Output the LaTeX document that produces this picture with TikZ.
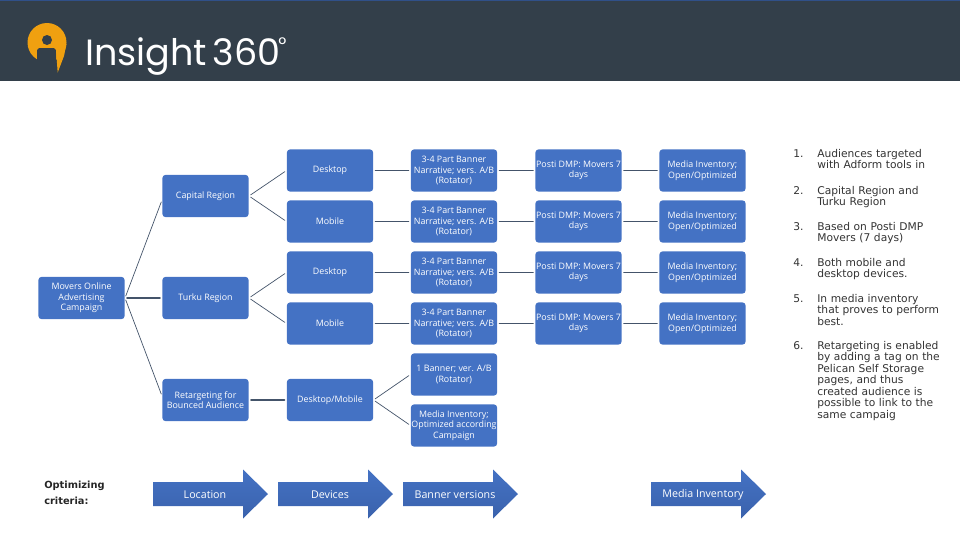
\documentclass[tikz,border=0pt]{standalone}
\usepackage{fontspec}
\setmainfont{Open Sans}
\newfontfamily\listfont{DejaVu Sans}
\newfontfamily\logofont[WordSpace=0.55]{Poppins}
\usepackage{xcolor}
\definecolor{boxblue}{HTML}{4472C4}
\definecolor{arrowdark}{HTML}{3A62AC}
\definecolor{linkgrey}{HTML}{44546A}
\definecolor{headgrey}{HTML}{333F4A}
\definecolor{logoorange}{HTML}{F0A010}

\begin{document}
\begin{tikzpicture}[
  x=0.025cm,
  y=-0.025cm,
  line cap=round,
  line join=round,
  flowbox/.style={fill=boxblue,rounded corners=2.5pt,text=white,align=center,
    font=\fontsize{6.3}{7.4}\selectfont,inner sep=0pt,
    execute at begin node={\vspace*{1.4pt}},
    minimum width=2.16cm,minimum height=1.06cm},
  link/.style={draw=linkgrey,line width=1.3pt,shorten <=1.5pt,shorten >=1.5pt},
  slant/.style={draw=linkgrey,line width=0.5pt,shorten <=1.5pt,shorten >=1.5pt},
  stage/.style={text=white,font=\fontsize{7.6}{9}\selectfont},
  listnum/.style={font=\listfont\fontsize{7.6}{8.15}\selectfont,text=black!80,anchor=north west,inner sep=0pt},
  listtext/.style={listnum,align=left,text width=3.2cm}
]
  \useasboundingbox (0,0) rectangle (960,540);

  % Header band and logo
  \fill[headgrey] (0,0) rectangle (960,81);
  \draw[boxblue!70!black,line width=0.6pt] (0,0.5) -- (960,0.5);
  \fill[logoorange] (47,42.5) circle (19.5);
  \fill[headgrey,rounded corners=2pt] (37,66) -- (37,48) -- (56,48) -- (56,76) -- (37,76) -- cycle;
  \fill[logoorange] (56,50) -- (66.4,44) -- (64,56) -- (57.7,72.5) -- cycle;
  \fill[headgrey] (47,40) circle (5);
  \node[text=white,anchor=base west,inner sep=0pt,font=\logofont\fontsize{26}{28}\selectfont] (title) at (85,65) {Insight 360};
  \node[text=white,anchor=north,inner sep=0pt,font=\logofont\fontsize{14}{14}\selectfont] (degree) at (282.5,37) {°};

  % Tree on the left
  \node[flowbox] (campaign) at (81.5,298) {Movers Online\\Advertising\\Campaign};
  \node[flowbox] (capital) at (205.5,196) {Capital Region};
  \node[flowbox] (turku) at (205.5,298) {Turku Region};
  \node[flowbox] (retarget) at (205.5,400) {Retargeting for\\Bounced Audience};
  \draw[slant] (campaign.east) -- ([shift={(0,4)}]capital.west);
  \draw[link] (campaign) -- (turku);
  \draw[slant] (campaign.east) -- ([shift={(0,-4)}]retarget.west);

  % Four rows of device, banner, data and inventory
  \foreach \i/\yy/\dev/\parent in {1/170.5/Desktop/capital,2/221.5/Mobile/capital,
                                    3/272.5/Desktop/turku,4/323.5/Mobile/turku} {
    \node[flowbox] (device\i) at (330,\yy) {\dev};
    \node[flowbox] (banner\i) at (454,\yy) {3-4 Part Banner\\Narrative; vers. A/B\\(Rotator)};
    \node[flowbox] (posti\i) at (578.5,\yy) {Posti DMP: Movers 7\\days};
    \node[flowbox] (media\i) at (702.5,\yy) {Media Inventory;\\Open/Optimized};
    \draw[slant] (\parent.east) -- (device\i.west);
    \draw[link] (device\i) -- (banner\i);
    \draw[link] (banner\i) -- (posti\i);
    \draw[link] (posti\i) -- (media\i);
  }

  % Retargeting branch
  \node[flowbox] (devmob) at (330,400) {Desktop/Mobile};
  \node[flowbox] (onebanner) at (454,374.5) {1 Banner; ver. A/B\\(Rotator)};
  \node[flowbox] (inventory) at (454,425.5) {Media Inventory;\\Optimized according\\Campaign};
  \draw[link] (retarget) -- (devmob);
  \draw[slant] (devmob.east) -- (onebanner.west);
  \draw[slant] (devmob.east) -- (inventory.west);

  % Optimizing criteria arrows
  \node[font=\listfont\bfseries\fontsize{7}{11.6}\selectfont,text=black!85,align=left,anchor=west,inner sep=0pt] (criteria) at (44,493) {Optimizing\\criteria:};
  \foreach \ax/\txt in {153/Location,278/Devices,403/Banner versions,651/Media Inventory} {
    \shade[top color=boxblue,bottom color=arrowdark] (\ax,482) -- ++(90,0) -- ++(0,-12.5) -- ++(25,24.5)
      -- ++(-25,24.5) -- ++(0,-12.5) -- ++(-90,0) -- cycle;
    \node[stage] at (\ax+52,495) {\txt};
  }

  % Notes on the right
  \foreach \nn/\yy/\txt in {1./149/{Audiences targeted\\with Adform tools in},
                            2./186/{Capital Region and\\Turku Region},
                            3./222/{Based on Posti DMP\\Movers (7 days)},
                            4./258/{Both mobile and\\desktop devices.},
                            5./294/{In media inventory\\that proves to perform\\best.},
                            6./341/{Retargeting is enabled\\by adding a tag on the\\Pelican Self Storage\\pages, and thus\\created audience is\\possible to link to the\\same campaig}} {
    \node[listnum] at (793,\yy) {\nn};
    \node[listtext] at (817,\yy) {\txt};
  }
\end{tikzpicture}
\end{document}
